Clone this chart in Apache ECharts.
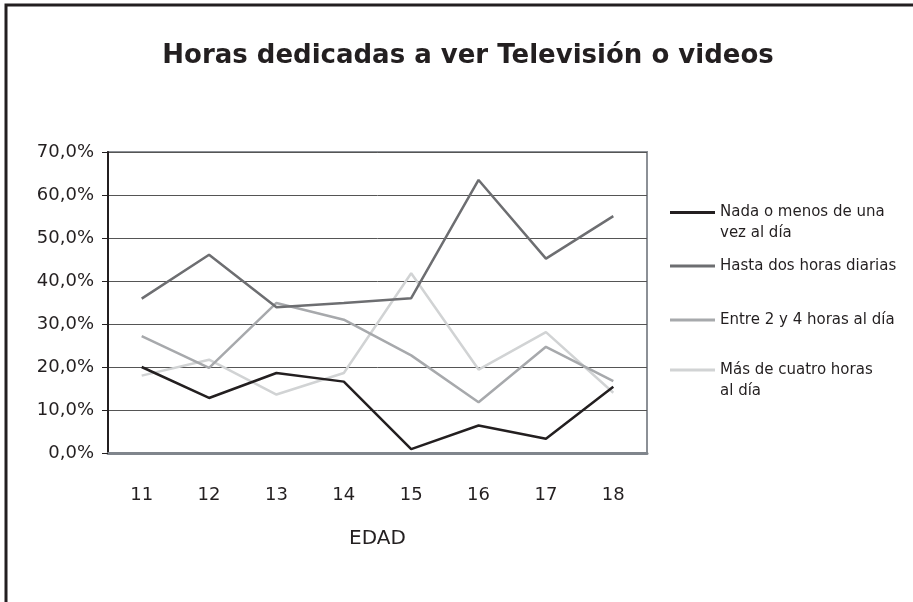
<!DOCTYPE html>
<html>
<head>
<meta charset="utf-8">
<title>Horas dedicadas a ver Televisión o videos</title>
<script src="https://cdn.jsdelivr.net/npm/echarts@6/dist/echarts.min.js"></script>
<style>
  html, body { margin: 0; padding: 0; background: #fff; }
  #chart { width: 913px; height: 602px; }
</style>
</head>
<body>
<div id="chart"></div>
<script>
// edades (eje X)
const edades = ['11', '12', '13', '14', '15', '16', '17', '18']

// porcentajes
const nada = [20.0, 12.8, 18.6, 16.6, 0.9, 6.4, 3.3, 15.4]
const hastaDos = [35.9, 46.1, 33.9, 34.9, 36.0, 63.5, 45.2, 55.1]
const entre2y4 = [27.2, 19.8, 34.9, 31.0, 22.7, 11.8, 24.7, 16.7]
const masDeCuatro = [18.0, 21.7, 13.6, 18.6, 41.8, 19.4, 28.1, 14.0]

const nombres = [
  'Nada o menos de una vez al día',
  'Hasta dos horas diarias',
  'Entre 2 y 4 horas al día',
  'Más de cuatro horas al día'
]
// la línea vacía de arriba deja el icono a la altura del primer renglón
const etiquetas = [
  ' \nNada o menos de una\nvez al día',
  'Hasta dos horas diarias',
  'Entre 2 y 4 horas al día',
  ' \nMás de cuatro horas\nal día'
]
const colores = ['#231f20', '#6d6e71', '#a7a9ac', '#d1d3d4']

const font = 'DejaVu Sans'
const ink = '#231f20'

const chart = echarts.init(document.getElementById('chart'))

const serie = (i, data) => ({
  name: nombres[i],
  type: 'line',
  data: data,
  color: colores[i],
  symbol: 'none',
  lineStyle: { color: colores[i], width: 2.5 },
  z: 10 - i
})

const leyenda = (i, top) => ({
  data: [nombres[i]],
  left: 670,
  top: top,
  padding: 0,
  icon: 'rect',
  itemWidth: 45,
  itemHeight: 3,
  formatter: () => etiquetas[i],
  textStyle: {
    fontFamily: font,
    fontSize: 15,
    color: ink,
    lineHeight: 21
  }
})

chart.setOption({
  animation: false,
  backgroundColor: '#fff',
  title: {
    text: 'Horas dedicadas a ver Televisión o videos',
    left: 463,
    top: 38,
    textAlign: 'center',
    textStyle: {
      fontFamily: font,
      fontSize: 26,
      fontWeight: 'bold',
      color: ink
    }
  },
  legend: [
    leyenda(0, 181),
    leyenda(1, 255.5),
    leyenda(2, 309.5),
    leyenda(3, 338.5)
  ],
  grid: {
    left: 108,
    right: 266,
    top: 152,
    bottom: 149,
    show: true,
    borderColor: '#8c9096',
    borderWidth: 2
  },
  xAxis: {
    type: 'category',
    data: edades,
    boundaryGap: true,
    name: 'EDAD',
    nameLocation: 'middle',
    nameGap: 76,
    nameTextStyle: { fontFamily: font, fontSize: 20, color: ink },
    axisLine: { lineStyle: { color: '#80858c', width: 3 } },
    axisTick: { show: false },
    axisLabel: { fontFamily: font, fontSize: 18, color: ink, margin: 33 }
  },
  yAxis: {
    type: 'value',
    min: 0,
    max: 70,
    interval: 10,
    axisLine: { show: true, lineStyle: { color: '#231f20', width: 2 } },
    axisTick: { show: true, length: 6, lineStyle: { color: '#231f20' } },
    axisLabel: {
      fontFamily: font,
      fontSize: 18,
      color: ink,
      margin: 14,
      formatter: v => v.toFixed(1).replace('.', ',') + '%'
    },
    splitLine: { lineStyle: { color: '#555', width: 1 } }
  },
  series: [
    serie(0, nada),
    serie(1, hastaDos),
    serie(2, entre2y4),
    serie(3, masDeCuatro)
  ],
  graphic: [
    {
      type: 'polyline',
      silent: true,
      shape: { points: [[6, 602], [6, 5], [913, 5]] },
      style: { stroke: '#231f20', lineWidth: 3, fill: null }
    }
  ]
})
</script>
</body>
</html>
